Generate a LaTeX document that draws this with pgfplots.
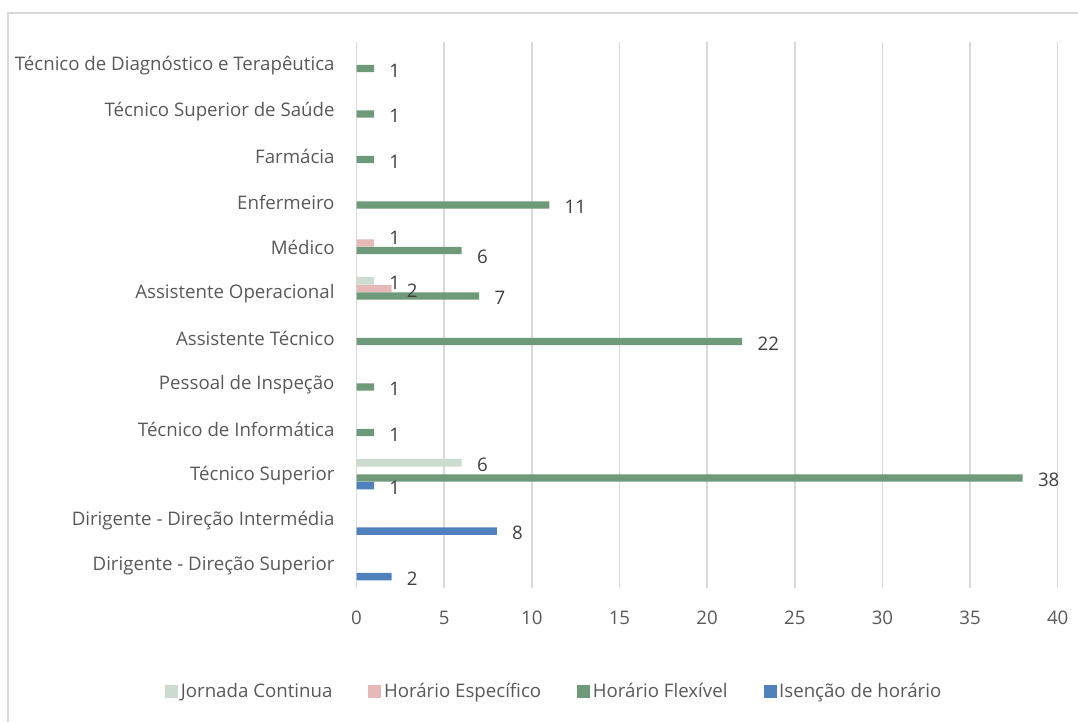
\documentclass[border=0pt]{standalone}
\usepackage{fontspec}
\setmainfont{Open Sans}
\usepackage{pgfplots}
\pgfplotsset{compat=1.18}

\definecolor{jornada}{HTML}{CCDCCE}
\definecolor{especifico}{HTML}{E6B9B8}
\definecolor{flexivel}{HTML}{6E9A7A}
\definecolor{isencao}{HTML}{4F81BD}
\definecolor{gridgray}{HTML}{D9D9D9}
\definecolor{labelgray}{HTML}{595959}
\definecolor{valuegray}{HTML}{404040}

\newcommand\chartfont{\fontsize{14pt}{16.8pt}\selectfont}

\begin{document}
\begin{tikzpicture}
% page frame: 1078 x 722 px at 0.75pt per px
\useasboundingbox (0pt,0pt) rectangle (808.5pt,-541.5pt);
\draw[gridgray, line width=1.1pt] (6pt,-541.5pt) -- (6pt,-9.75pt) -- (808.5pt,-9.75pt);

\begin{axis}[
  at={(267.4pt,-441pt)}, anchor=south west,
  scale only axis,
  width=525.9pt, height=409.5pt,
  xbar, bar width=0.16,
  xmin=0, xmax=40,
  ymin=-0.5, ymax=11.5,
  xtick={0,5,...,40},
  ytick={0,...,11},
  yticklabels={Dirigente - Direção Superior, Dirigente - Direção Intermédia,
    Técnico Superior, Técnico de Informática, Pessoal de Inspeção,
    Assistente Técnico, Assistente Operacional, Médico, Enfermeiro,
    Farmácia, Técnico Superior de Saúde, Técnico de Diagnóstico e Terapêutica},
  xmajorgrids,
  grid style={gridgray, line width=1.1pt},
  axis line style={draw=none},
  tick style={draw=none},
  /pgf/number format/assume math mode=true,
  tick label style={font=\chartfont, text=labelgray},
  xticklabel style={yshift=-13.5pt},
  yticklabel style={xshift=-8.7pt, yshift=-0.8pt},
  clip=false,
  nodes near coords,
  nodes near coords style={anchor=west, xshift=8pt, yshift=-1.5pt, font=\chartfont,
    text=valuegray, /pgf/number format/assume math mode=true},
  legend style={at={(0.2825,-0.19)}, anchor=center, legend columns=4, draw=none,
    font=\chartfont, text=labelgray,
    /tikz/every odd column/.append style={column sep=0pt},
    /tikz/every even column/.append style={column sep=25pt}},
  legend image code/.code={\fill[#1] (0pt,-4.9pt) rectangle (9.75pt,4.9pt);},
]
% Jornada Continua (top bar of each group)
\addplot[fill=jornada, draw=none, bar shift=0.25] coordinates {(6,2) (1,6)};
% Horario Especifico; the label for Medico sits above its bar
\addplot[fill=especifico, draw=none, bar shift=0.083,
  coordinate style/.condition={y==7}{yshift=5.25pt}] coordinates {(1,7) (2,6)};
% Horario Flexivel; the label for Medico sits below its bar
\addplot[fill=flexivel, draw=none, bar shift=-0.083,
  coordinate style/.condition={y==7}{yshift=-3.4pt}] coordinates {
  (38,2) (1,3) (1,4) (22,5) (7,6) (6,7) (11,8) (1,9) (1,10) (1,11)};
% Isencao de horario (bottom bar of each group)
\addplot[fill=isencao, draw=none, bar shift=-0.25] coordinates {(2,0) (8,1) (1,2)};
\legend{Jornada Continua, Horário Específico, Horário Flexível, Isenção de horário}
\end{axis}
\end{tikzpicture}
\end{document}
